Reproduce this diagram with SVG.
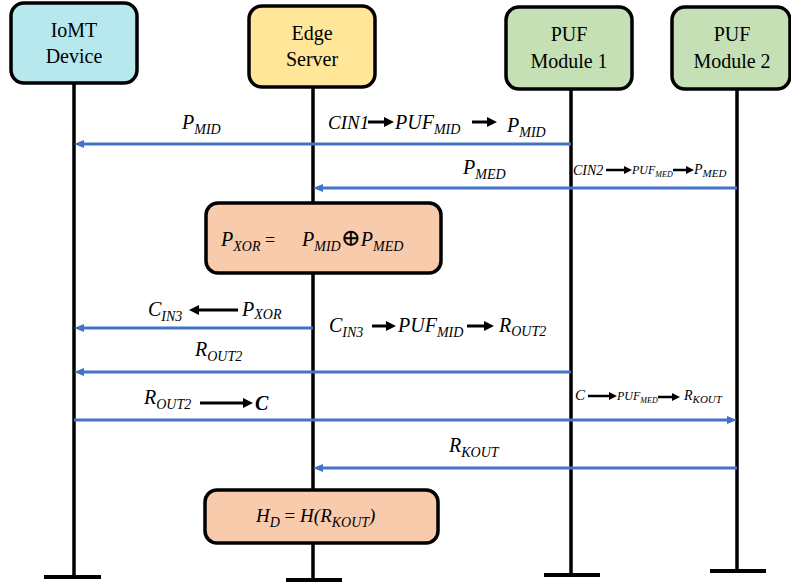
<svg xmlns="http://www.w3.org/2000/svg" width="791" height="585" viewBox="0 0 791 585">
<style>
.box{stroke:#000;stroke-width:3.5}
.life{stroke:#000;stroke-width:3.5;fill:none}
.cap{stroke:#000;stroke-width:4}
.msg{stroke:#4472C4;stroke-width:3;fill:none}
.bk{stroke:#000;stroke-width:3;fill:none}
.bks{stroke:#000;stroke-width:2.5;fill:none}
text{font-family:'Liberation Serif',Tinos,'DejaVu Serif',serif;fill:#000}
.t{font-size:20px;text-anchor:middle}
.m{font-style:italic;font-size:20px}
.s{font-size:14px}
</style>
<defs>
<marker id="bl" viewBox="0 0 10 8" refX="0" refY="4" markerWidth="10" markerHeight="8" markerUnits="userSpaceOnUse" orient="auto"><path d="M0,0 L10,4 L0,8 z" fill="#4472C4"/></marker>
<marker id="ba" viewBox="0 0 10 10" refX="0" refY="5" markerWidth="10" markerHeight="10" markerUnits="userSpaceOnUse" orient="auto"><path d="M0,0 L10,5 L0,10 z" fill="#000"/></marker>
<marker id="bas" viewBox="0 0 8 8" refX="0" refY="4" markerWidth="8" markerHeight="8" markerUnits="userSpaceOnUse" orient="auto"><path d="M0,0 L8,4 L0,8 z" fill="#000"/></marker>
</defs>

<g id="lifelines">
<line class="life" x1="74" y1="83" x2="74" y2="577"/><line class="cap" x1="44" y1="577" x2="101" y2="577"/>
<line class="life" x1="313" y1="87" x2="313" y2="580"/><line class="cap" x1="286" y1="580" x2="342" y2="580"/>
<line class="life" x1="571" y1="89" x2="571" y2="575"/><line class="cap" x1="544" y1="575" x2="600" y2="575"/>
<line class="life" x1="737" y1="89" x2="737" y2="571"/><line class="cap" x1="710" y1="571" x2="766" y2="571"/>
</g>

<g id="iomt"><rect class="box" x="11" y="3" width="126" height="80" rx="13" fill="#B6E8EE"/><text class="t" x="74" y="37">IoMT</text><text class="t" x="74" y="63">Device</text></g>
<g id="edge"><rect class="box" x="249" y="6" width="126" height="81" rx="13" fill="#FFE699"/><text class="t" x="312" y="40">Edge</text><text class="t" x="312" y="66">Server</text></g>
<g id="puf1"><rect class="box" x="506" y="7" width="126" height="82" rx="13" fill="#C5E0B4"/><text class="t" x="569" y="41">PUF</text><text class="t" x="569" y="68">Module 1</text></g>
<g id="puf2"><rect class="box" x="672" y="7" width="118" height="82" rx="13" fill="#C5E0B4"/><text class="t" x="732" y="41">PUF</text><text class="t" x="732" y="68">Module 2</text></g>

<g id="xor"><rect class="box" x="206" y="203" width="235" height="70" rx="12" fill="#F8CBAD"/>
<text class="m" x="221" y="246">P<tspan class="s" dy="5">XOR</tspan><tspan dy="-5" style="font-style:normal;font-size:18px"> = </tspan></text>
<text class="m" x="302" y="246">P<tspan class="s" dy="5">MID</tspan><tspan dy="-5" style="font-style:normal;font-size:24px">⊕</tspan>P<tspan class="s" dy="5">MED</tspan></text>
</g>

<g id="hd"><rect class="box" x="205" y="490" width="233" height="53" rx="12" fill="#F8CBAD"/>
<text class="m" x="256" y="522" style="font-size:19px">H<tspan class="s" dy="5">D</tspan><tspan dy="-5" style="font-style:normal"> = </tspan>H(R<tspan class="s" dy="5">KOUT</tspan><tspan dy="-5">)</tspan></text>
</g>

<g id="connectors">
<line class="msg" x1="571" y1="144" x2="84" y2="144" marker-end="url(#bl)"/>
<line class="msg" x1="737" y1="188" x2="323" y2="188" marker-end="url(#bl)"/>
<line class="msg" x1="313" y1="328" x2="84" y2="328" marker-end="url(#bl)"/>
<line class="msg" x1="571" y1="372" x2="84" y2="372" marker-end="url(#bl)"/>
<line class="msg" x1="74" y1="420" x2="727" y2="420" marker-end="url(#bl)"/>
<line class="msg" x1="737" y1="468" x2="323" y2="468" marker-end="url(#bl)"/>
</g>

<g id="labels">
<text class="m" x="182" y="129">P<tspan class="s" dy="5">MID</tspan></text>
<text class="m" x="328" y="129" style="font-size:19px">CIN1</text>
<line class="bk" x1="368" y1="122" x2="384" y2="122" marker-end="url(#ba)"/>
<text class="m" x="395" y="129">PUF<tspan class="s" dy="5">MID</tspan></text>
<line class="bk" x1="472" y1="122" x2="487" y2="122" marker-end="url(#ba)"/>
<text class="m" x="507" y="132">P<tspan class="s" dy="5">MID</tspan></text>

<text class="m" x="463" y="174">P<tspan class="s" dy="5">MED</tspan></text>
<text class="m" x="573" y="175" style="font-size:14px">CIN2</text>
<line class="bks" x1="606" y1="170" x2="624" y2="170" marker-end="url(#bas)"/>
<text class="m" x="632" y="174" style="font-size:12px">PUF<tspan style="font-size:8px" dy="3">MED</tspan></text>
<line class="bks" x1="673" y1="170" x2="686" y2="170" marker-end="url(#bas)"/>
<text class="m" x="694" y="174" style="font-size:14px">P<tspan style="font-size:11px" dy="3">MED</tspan></text>

<text class="m" x="148" y="316">C<tspan class="s" dy="5">IN3</tspan></text>
<line class="bk" x1="238" y1="310" x2="199" y2="310" marker-end="url(#ba)"/>
<text class="m" x="242" y="316">P<tspan class="s" dy="3">XOR</tspan></text>

<text class="m" x="329" y="332">C<tspan class="s" dy="5">IN3</tspan></text>
<line class="bk" x1="372" y1="326" x2="386" y2="326" marker-end="url(#ba)"/>
<text class="m" x="398" y="332">PUF<tspan class="s" dy="5">MID</tspan></text>
<line class="bk" x1="467" y1="326" x2="484" y2="326" marker-end="url(#ba)"/>
<text class="m" x="499" y="332">R<tspan class="s" dy="4">OUT2</tspan></text>

<text class="m" x="195" y="356">R<tspan class="s" dy="5">OUT2</tspan></text>

<text class="m" x="144" y="404">R<tspan class="s" dy="5">OUT2</tspan></text>
<line class="bk" x1="200" y1="403" x2="243" y2="403" marker-end="url(#ba)"/>
<text class="m" x="255" y="410" style="font-weight:bold">C</text>

<text class="m" x="575" y="400" style="font-size:15px">C</text>
<line class="bks" x1="588" y1="396" x2="609" y2="396" marker-end="url(#bas)"/>
<text class="m" x="617" y="400" style="font-size:12px">PUF<tspan style="font-size:8px" dy="3">MED</tspan></text>
<line class="bks" x1="658" y1="397" x2="672" y2="397" marker-end="url(#bas)"/>
<text class="m" x="684" y="400" style="font-size:14px">R<tspan style="font-size:11px" dy="3">KOUT</tspan></text>

<text class="m" x="449" y="452">R<tspan class="s" dy="5">KOUT</tspan></text>
</g>
</svg>
